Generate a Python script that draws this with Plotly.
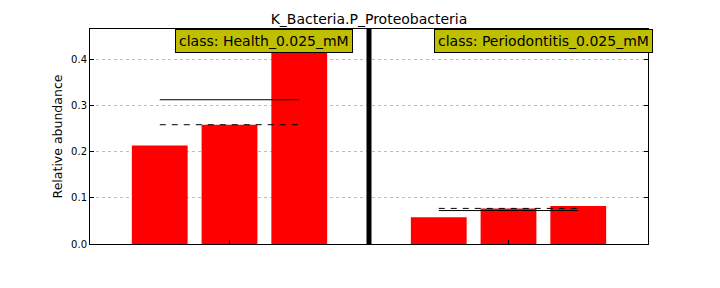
import numpy as np
import plotly.graph_objects as go

title = "K_Bacteria.P_Proteobacteria"
classes = ["Health_0.025_mM", "Periodontitis_0.025_mM"]
health_values = [0.213, 0.258, 0.465]
perio_values = [0.058, 0.077, 0.082]
y_ticks = [0.0, 0.1, 0.2, 0.3, 0.4]
y_label = "Relative abundance"

groups = [health_values, perio_values]
FONT = "DejaVu Sans"

fig = go.Figure()

# positions: consecutive samples, one empty slot between classes
xs_all, ys_all = [], []
group_pos = []
pos = 0
for g in groups:
    p = list(range(pos, pos + len(g)))
    group_pos.append(p)
    xs_all += p
    ys_all += g
    pos += len(g) + 1
sep_x = group_pos[0][-1] + 1

fig.add_trace(go.Bar(x=xs_all, y=ys_all, width=0.8, marker=dict(color="#ff0000", line=dict(width=0)),
                     showlegend=False, hoverinfo="skip"))

for p, g in zip(group_pos, groups):
    fig.add_trace(go.Scatter(x=[p[0], p[-1]], y=[np.mean(g)] * 2, mode="lines",
                             line=dict(color="black", width=1), showlegend=False))
    fig.add_trace(go.Scatter(x=[p[0], p[-1]], y=[np.median(g)] * 2, mode="lines",
                             line=dict(color="black", width=1, dash="6px,6px"), showlegend=False))

ymax = max(ys_all)
fig.add_shape(type="line", x0=sep_x, x1=sep_x, y0=0, y1=1, yref="paper",
              line=dict(color="black", width=5))

for p, c in zip(group_pos, classes):
    fig.add_annotation(x=(p[0] + p[-1]) / 2 + 0.5, y=ymax, yanchor="top", xanchor="center",
                       text="class: " + c, showarrow=False,
                       font=dict(family=FONT, size=14, color="black"),
                       bgcolor="#bfbf00", bordercolor="black", borderwidth=1, borderpad=3)

tick_x = [group_pos[0][1], group_pos[1][1]]
fig.update_layout(
    width=720, height=288,
    margin=dict(l=90, r=72, t=29, b=44),
    plot_bgcolor="white", paper_bgcolor="white",
    title=dict(text=title, x=(90 + 648) / 2 / 720, xanchor="center", y=1 - 19 / 288, yanchor="middle",
               yref="container", font=dict(family=FONT, size=14, color="black")),
    xaxis=dict(range=[-1, pos - 1], tickvals=tick_x, ticktext=["", ""], ticks="inside", ticklen=4,
               tickcolor="black", showgrid=False, zeroline=False, showline=True, linecolor="black",
               linewidth=1, mirror="ticks"),
    yaxis=dict(range=[0, ymax], tickvals=y_ticks, ticktext=[f"{v:.1f}" for v in y_ticks],
               ticks="inside", ticklen=4, tickcolor="black", showgrid=True, gridcolor="#bdbdbd",
               griddash="dot", gridwidth=1, zeroline=False, showline=True, linecolor="black",
               linewidth=1, mirror="ticks",
               tickfont=dict(family=FONT, size=10, color="black"),
               title=dict(text=y_label, font=dict(family=FONT, size=12.5, color="black"), standoff=5)),
    font=dict(family=FONT),
)

fig.write_html("out.html")
